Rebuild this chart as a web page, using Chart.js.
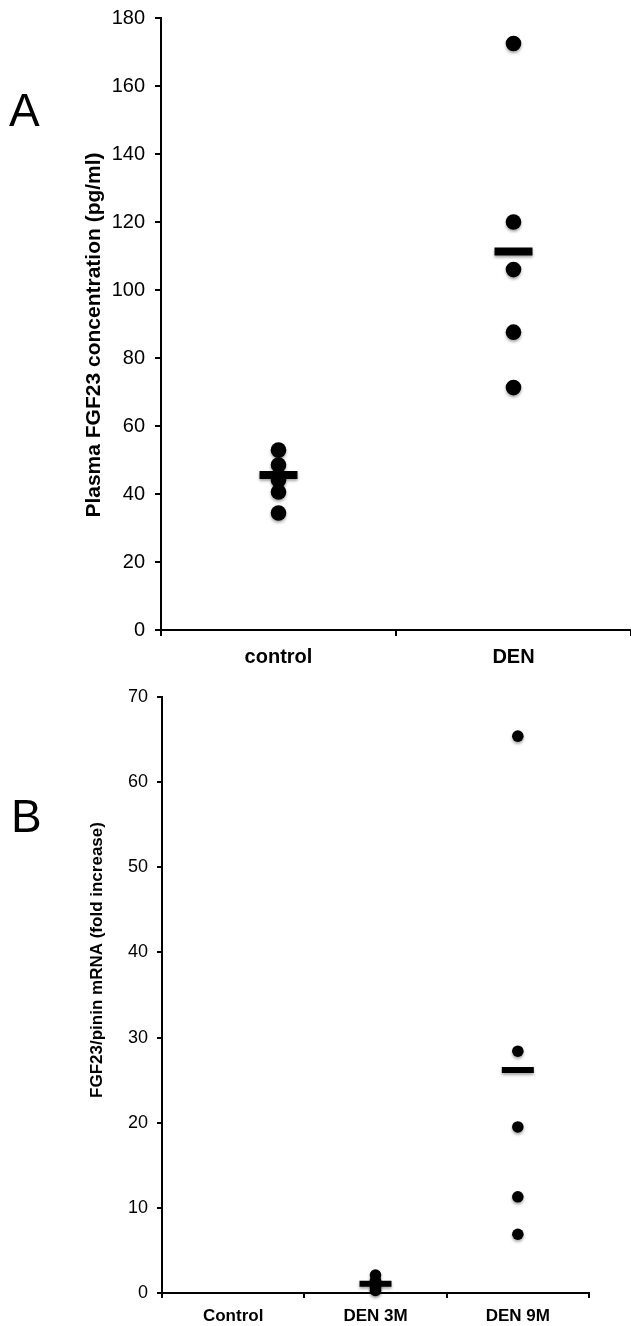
<!DOCTYPE html>
<html>
<head>
<meta charset="utf-8">
<script src="https://cdn.jsdelivr.net/npm/chart.js@4.4.1/dist/chart.umd.min.js"></script>
<style>
  html, body { margin: 0; padding: 0; background: #fff; }
  #wrap { position: relative; width: 631px; height: 1326px; }
  #chartA { position: absolute; left: 0; top: 0; }
  #chartB { position: absolute; left: 0; top: 670px; }
</style>
</head>
<body>
<div id="wrap">
  <canvas id="chartA" width="631" height="670"></canvas>
  <canvas id="chartB" width="631" height="656"></canvas>
</div>
<script>
// panel A - plasma FGF23 (pg/ml)
const fgfGroups = ['control', 'DEN'];
const fgfControl = [52.9, 48.5, 44.1, 40.6, 34.4];
const fgfDen = [172.5, 120.0, 106.0, 87.6, 71.3];
const fgfMeans = [45.6, 111.3];
const fgfTicks = { min: 0, max: 180, step: 20 };

// panel B - FGF23/pinin mRNA (fold increase)
const mrnaGroups = ['Control', 'DEN 3M', 'DEN 9M'];
const mrnaDen3m = [2.1, 1.5, 1.0, 0.6, 0.3];
const mrnaDen9m = [65.4, 28.4, 19.5, 11.3, 6.9];
const mrnaMeans = [null, 1.1, 26.2];
const mrnaTicks = { min: 0, max: 70, step: 10 };

const FONT = '"Liberation Sans", Arial, Helvetica, sans-serif';

// panel letter + rotated y title, plus a soft shadow under the marks
const panelText = {
  id: 'panelText',
  beforeDatasetsDraw(chart) {
    const ctx = chart.ctx;
    ctx.save();
    ctx.shadowColor = 'rgba(0,0,0,0.35)';
    ctx.shadowBlur = 3;
    ctx.shadowOffsetY = 2;
  },
  afterDatasetsDraw(chart) {
    chart.ctx.restore();
  },
  afterDraw(chart, args, opts) {
    const ctx = chart.ctx;
    ctx.save();
    ctx.fillStyle = '#000';
    ctx.font = '46px ' + FONT;
    ctx.textBaseline = 'alphabetic';
    ctx.textAlign = 'left';
    ctx.fillText(opts.letter, opts.letterX, opts.letterY);

    ctx.translate(opts.titleX, opts.titleY);
    ctx.rotate(-Math.PI / 2);
    ctx.font = opts.titleFont;
    ctx.textAlign = 'center';
    ctx.textBaseline = 'middle';
    ctx.fillText(opts.title, 0, 0);
    ctx.restore();
  }
};

function points(group, values) {
  return values.map(v => ({ x: group, y: v }));
}

function makeChart(id, cfg) {
  return new Chart(document.getElementById(id), {
    type: 'line',
    data: {
      labels: cfg.labels,
      datasets: [
        {
          data: cfg.dots,
          showLine: false,
          clip: false,
          pointStyle: 'circle',
          pointRadius: cfg.dotRadius,
          pointBorderWidth: 0,
          pointBackgroundColor: '#000',
          pointBorderColor: '#000'
        },
        {
          data: cfg.means,
          showLine: false,
          clip: false,
          pointStyle: 'line',
          pointRadius: cfg.barHalf,
          pointBorderWidth: cfg.barThick,
          pointBorderColor: '#000',
          pointBackgroundColor: '#000'
        }
      ]
    },
    options: {
      responsive: false,
      animation: false,
      events: [],
      layout: { padding: cfg.padding, autoPadding: false },
      plugins: {
        legend: { display: false },
        tooltip: { enabled: false },
        panelText: cfg.text
      },
      scales: {
        x: {
          type: 'category',
          offset: true,
          grid: { display: true, offset: true, drawOnChartArea: false, drawTicks: true, tickLength: cfg.tickLen, color: '#000', lineWidth: 2 },
          border: { display: true, color: '#000', width: 2 },
          ticks: { color: '#000', padding: cfg.xPad, font: { family: FONT, size: cfg.xFont, weight: 'bold' }, maxRotation: 0 },
          afterFit: s => {
            s.height = cfg.xHeight;
            s.paddingLeft = 0;
            s.paddingRight = 0;
          }
        },
        y: {
          min: cfg.ticks.min,
          max: cfg.ticks.max,
          grid: { display: true, drawOnChartArea: false, drawTicks: true, tickLength: cfg.tickLen, color: '#000', lineWidth: 2 },
          border: { display: true, color: '#000', width: 2 },
          ticks: { stepSize: cfg.ticks.step, color: '#000', padding: cfg.yPad, font: { family: FONT, size: cfg.yFont } },
          afterFit: s => {
            s.width = cfg.yWidth;
            s.paddingTop = 0;
            s.paddingBottom = 0;
          }
        }
      }
    },
    plugins: [panelText]
  });
}

makeChart('chartA', {
  labels: fgfGroups,
  dots: points('control', fgfControl).concat(points('DEN', fgfDen)),
  means: fgfGroups.map((g, i) => ({ x: g, y: fgfMeans[i] })),
  dotRadius: 7.8,
  barHalf: 19,
  barThick: 8,
  ticks: fgfTicks,
  padding: { top: 18, right: 0, bottom: 0, left: 0 },
  xHeight: 40,
  yWidth: 161,
  tickLen: 6,
  xPad: 9,
  yPad: 10,
  xFont: 20,
  yFont: 20,
  text: {
    letter: 'A', letterX: 9, letterY: 126,
    title: 'Plasma FGF23 concentration (pg/ml)', titleX: 94, titleY: 335,
    titleFont: 'bold 21px ' + FONT
  }
});

makeChart('chartB', {
  labels: mrnaGroups,
  dots: points('DEN 3M', mrnaDen3m).concat(points('DEN 9M', mrnaDen9m)),
  means: mrnaGroups.map((g, i) => ({ x: g, y: mrnaMeans[i] })),
  dotRadius: 5.8,
  barHalf: 16,
  barThick: 6,
  ticks: mrnaTicks,
  padding: { top: 27, right: 42, bottom: 0, left: 0 },
  xHeight: 33,
  yWidth: 162,
  tickLen: 5,
  xPad: 8,
  yPad: 9,
  xFont: 17,
  yFont: 18,
  text: {
    letter: 'B', letterX: 11, letterY: 162,
    title: 'FGF23/pinin mRNA (fold increase)', titleX: 97, titleY: 290,
    titleFont: 'bold 17px ' + FONT
  }
});
</script>
</body>
</html>
